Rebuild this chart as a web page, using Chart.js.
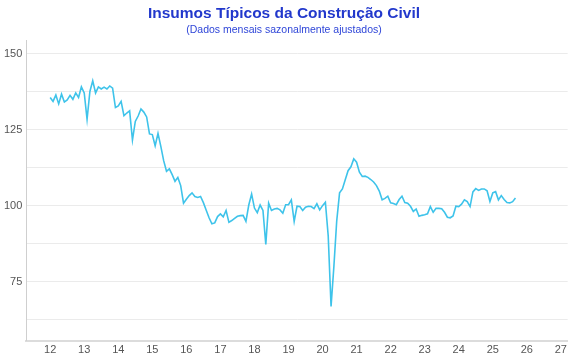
<!DOCTYPE html>
<html>
<head>
<meta charset="utf-8">
<script src="https://cdn.jsdelivr.net/npm/chart.js@4"></script>
<style>
  html, body { margin: 0; padding: 0; background: #fff; }
  #wrap { width: 570px; height: 360px; }
</style>
</head>
<body>
<div id="wrap"><canvas id="chart"></canvas></div>
<script>
// Insumos típicos da construção civil, índice mensal dessazonalizado (jan/2012 em diante)

const START_YEAR = 12;   // rótulo do eixo: ano com dois dígitos
const values = [
  // 2012
  135.6, 134.3, 136.4, 133.5, 136.7, 134.1, 134.8, 136.3, 135.0, 137.1, 135.6, 139.1,
  // 2013
  137.1, 128.4, 137.6, 141.1, 137.1, 139.1, 138.4, 139.0, 138.4, 139.4, 138.7, 132.3,
  // 2014
  132.8, 134.3, 129.6, 130.5, 131.2, 121.6, 127.7, 129.5, 131.8, 130.8, 129.2, 123.6,
  // 2015
  123.4, 119.7, 123.8, 119.5, 114.8, 111.3, 112.1, 110.2, 108.0, 109.3, 106.6, 100.8,
  // 2016
  102.1, 103.3, 104.2, 103.0, 102.7, 103.0, 101.0, 98.5, 96.0, 94.0, 94.3, 96.4,
  // 2017
  97.3, 96.3, 98.4, 94.5, 95.1, 95.8, 96.5, 96.7, 96.8, 94.8, 100.2, 103.8,
  // 2018
  99.2, 97.7, 100.2, 98.4, 87.2, 100.8, 98.4, 98.9, 99.1, 98.6, 97.5, 100.3,
  // 2019
  100.3, 101.9, 94.8, 99.8, 99.7, 98.4, 99.5, 99.8, 99.7, 99.0, 100.6, 98.6,
  // 2020
  100.0, 101.1, 90.0, 66.8, 80.0, 95.0, 104.2, 105.5, 108.5, 111.5, 112.8, 115.4,
  // 2021
  114.3, 111.0, 109.6, 109.7, 109.3, 108.6, 107.8, 106.6, 104.8, 101.9, 102.4, 103.1,
  // 2022
  100.9, 100.7, 100.3, 102.0, 103.1, 101.0, 100.8, 99.8, 98.1, 98.9, 96.5, 96.8,
  // 2023
  97.0, 97.3, 99.7, 97.8, 99.1, 99.1, 99.0, 97.8, 96.2, 96.0, 96.6, 99.8,
  // 2024
  99.7, 100.5, 101.9, 101.3, 99.7, 104.5, 105.6, 105.0, 105.5, 105.5, 104.9, 101.4,
  // 2025
  104.2, 104.6, 101.9, 103.3, 102.0, 101.0, 100.9, 101.3, 102.5
];
const xTicks = [12, 13, 14, 15, 16, 17, 18, 19, 20, 21, 22, 23, 24, 25, 26, 27];
const yTicks = [62.5, 75, 87.5, 100, 112.5, 125, 137.5, 150];
const yLabels = [75, 100, 125, 150];

const TITLE    = 'Insumos Típicos da Construção Civil';
const SUBTITLE = '(Dados mensais sazonalmente ajustados)';

const FONT = '"Liberation Sans", Arial, Helvetica, sans-serif';

const points = values.map((v, i) => ({ x: START_YEAR + i / 12, y: v }));

new Chart(document.getElementById('chart').getContext('2d'), {
  type: 'line',
  data: {
    datasets: [{
      data: points,
      borderColor: '#3ec3ea',
      borderWidth: 1.6,
      pointRadius: 0,
      tension: 0,
      fill: false
    }]
  },
  options: {
    responsive: true,
    maintainAspectRatio: false,
    animation: false,
    layout: { padding: { left: 0, right: 2, bottom: 0, top: 0 } },
    plugins: {
      legend: { display: false },
      tooltip: { enabled: false },
      title: {
        display: true,
        text: TITLE,
        color: '#2238cc',
        font: { family: FONT, size: 15.5, weight: 'bold' },
        padding: { top: 4, bottom: 1.5 }
      },
      subtitle: {
        display: true,
        text: SUBTITLE,
        color: '#2f46d8',
        font: { family: FONT, size: 10.5 },
        padding: { top: 0, bottom: 4 }
      }
    },
    scales: {
      x: {
        type: 'linear',
        min: 11.3,
        max: 27.2,
        afterBuildTicks: axis => { axis.ticks = xTicks.map(v => ({ value: v })); },
        ticks: {
          color: '#555',
          font: { family: FONT, size: 11 },
          padding: 3,
          maxRotation: 0,
          autoSkip: false,
          callback: v => String(v)
        },
        grid: { display: false, drawTicks: false },
        border: { display: true, color: '#dcdcdc', width: 2 }
      },
      y: {
        min: 55.5,
        max: 154.3,
        afterBuildTicks: axis => { axis.ticks = yTicks.map(v => ({ value: v })); },
        ticks: {
          color: '#555',
          font: { family: FONT, size: 11 },
          padding: 4,
          autoSkip: false,
          callback: v => yLabels.includes(v) ? String(v) : ''
        },
        grid: { color: '#ebebeb', lineWidth: 1, drawTicks: false },
        border: { display: true, color: '#cfcfcf', width: 1 }
      }
    }
  }
});
</script>
</body>
</html>
